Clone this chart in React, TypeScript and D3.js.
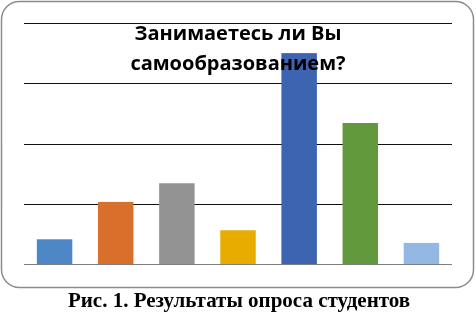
import React, { useEffect, useRef } from 'react'
import * as d3 from 'd3'

const categories = ['1', '2', '3', '4', '5', '6', '7']
const values = [4.1, 10.3, 13.4, 5.6, 35, 23.4, 3.5]
const colors = ['#4d87c6', '#d8702c', '#939393', '#e6ac00', '#3c64b0', '#61993c', '#93b7e3']
const gridTicks = [0, 10, 20, 30, 40]
const titleLines = ['Занимаетесь ли Вы', 'самообразованием?']
const caption = 'Рис. 1. Результаты опроса студентов'

export default function App() {
  const svgRef = useRef(null)

  useEffect(() => {
    const svg = d3.select(svgRef.current)
    svg.selectAll('*').remove()

    const width = 476
    const height = 312

    const x = d3.scaleBand().domain(categories).range([24, 452]).paddingInner(0.42).paddingOuter(0.21)
    const y = d3.scaleLinear().domain([0, 40]).range([264, 23])

    // frame
    svg
      .append('rect')
      .attr('x', 1.5)
      .attr('y', 1.5)
      .attr('width', 472)
      .attr('height', 286)
      .attr('rx', 18)
      .attr('fill', '#fff')
      .attr('stroke', '#8c8c8c')
      .attr('stroke-width', 1.5)

    // grid
    svg
      .selectAll('.grid')
      .data(gridTicks.slice(1))
      .enter()
      .append('line')
      .attr('x1', 24)
      .attr('x2', 452)
      .attr('y1', (d) => Math.round(y(d)) + 0.5)
      .attr('y2', (d) => Math.round(y(d)) + 0.5)
      .attr('stroke', '#111')
      .attr('stroke-width', 1)

    svg
      .selectAll('.bar')
      .data(values)
      .enter()
      .append('rect')
      .attr('x', (d, i) => x(categories[i]))
      .attr('y', (d) => y(d))
      .attr('width', x.bandwidth())
      .attr('height', (d) => y(0) - y(d))
      .attr('fill', (d, i) => colors[i])

    // baseline
    svg
      .append('line')
      .attr('x1', 24)
      .attr('x2', 452)
      .attr('y1', Math.round(y(0)) + 0.5)
      .attr('y2', Math.round(y(0)) + 0.5)
      .attr('stroke', '#808080')
      .attr('stroke-width', 1.2)

    svg
      .selectAll('.title')
      .data(titleLines)
      .enter()
      .append('text')
      .attr('x', 238)
      .attr('y', (d, i) => 40 + i * 30)
      .attr('text-anchor', 'middle')
      .attr('font-family', 'Open Sans, sans-serif')
      .attr('font-weight', 'bold')
      .attr('font-size', 20)
      .attr('fill', '#000')
      .text((d) => d)

    svg
      .append('text')
      .attr('x', 239)
      .attr('y', 307)
      .attr('text-anchor', 'middle')
      .attr('font-family', 'Liberation Serif, serif')
      .attr('font-weight', 'bold')
      .attr('font-size', 21)
      .attr('fill', '#000')
      .text(caption)

    svg.attr('width', width).attr('height', height)
  }, [])

  return (
    <div style={{ position: 'fixed', left: 0, top: 0 }}>
      <svg ref={svgRef} width="476" height="312" style={{ display: 'block' }}></svg>
    </div>
  )
}
